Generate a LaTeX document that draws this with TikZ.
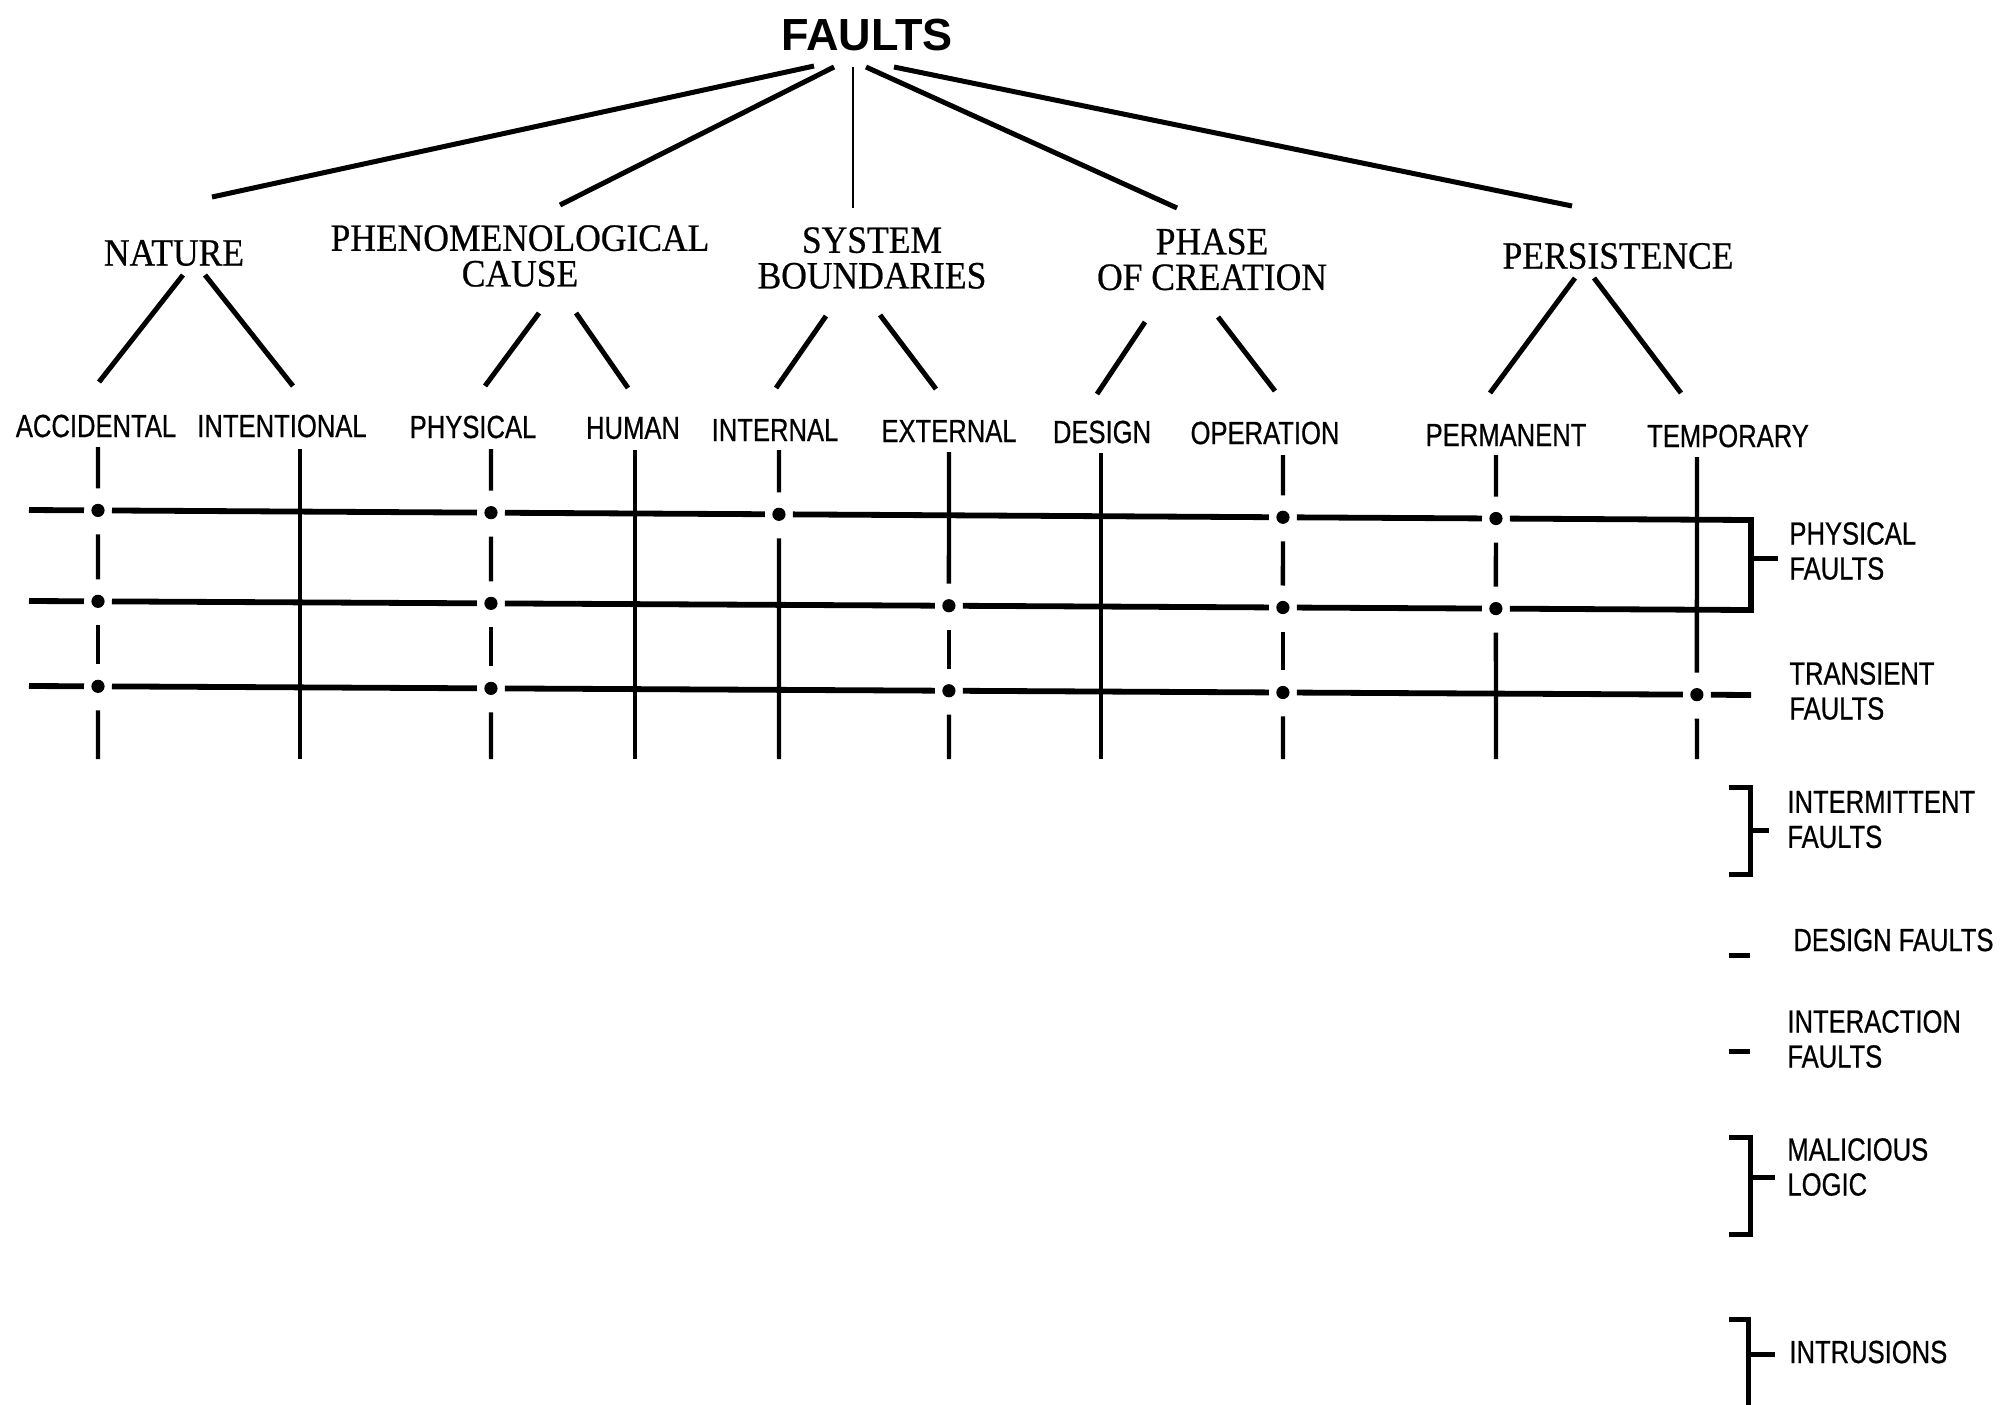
\documentclass[tikz,border=0pt]{standalone}
\usepackage{fontspec}
\setmainfont{Liberation Serif}
\newfontfamily\titlefont{Liberation Sans}
\newfontfamily\headfont[FakeStretch=0.92,FakeBold=0.6]{Liberation Serif}
\newfontfamily\itemfont[FakeStretch=0.8,FakeBold=0.6]{Liberation Sans}
\usetikzlibrary{calc}
\begin{document}
\begin{tikzpicture}[x=0.5pt,y=-0.5pt,
  title/.style={font=\titlefont\bfseries\fontsize{22.5}{27}\selectfont, inner sep=0pt},
  head/.style={font=\headfont\fontsize{19.3}{17.8}\selectfont, align=center, inner sep=0pt},
  item/.style={font=\itemfont\fontsize{16}{17.5}\selectfont, inner sep=0pt},
  side/.style={font=\itemfont\fontsize{16}{17.5}\selectfont, align=left, inner sep=0pt, anchor=west},
  tree/.style={line width=2.5pt},
  thintree/.style={line width=1.2pt},
  rowline/.style={line width=2.9pt},
  colline/.style={line width=2.2pt},
  bracket/.style={line width=2.5pt},
  dot/.style={circle, fill=black, inner sep=0pt, minimum size=6.6pt},
  hgapL/.style={shorten <=7pt},
  hgapR/.style={shorten >=7pt},
  vgapT/.style={shorten <=12pt},
  vgapB/.style={shorten >=11pt}]
\useasboundingbox (0,0) rectangle (2011,1404);

% ---------- root ----------
\node[title] (faults) at (867,35) {FAULTS};

% ---------- viewpoints ----------
\node[head] (nature) at (174,253) {NATURE};
\node[head] (phen) at (520,256) {PHENOMENOLOGICAL\\CAUSE};
\node[head] (sysb) at (872,258) {SYSTEM\\BOUNDARIES};
\node[head] (phase) at (1212,259.5) {PHASE\\OF CREATION};
\node[head] (pers) at (1618,256) {PERSISTENCE};

% ---------- classes ----------
\node[item] (acc) at (96,426) {ACCIDENTAL};
\node[item] (intent) at (282,426) {INTENTIONAL};
\node[item] (phys) at (473,427) {PHYSICAL};
\node[item] (human) at (633,428) {HUMAN};
\node[item] (intern) at (775,430) {INTERNAL};
\node[item] (extern) at (949,431) {EXTERNAL};
\node[item] (design) at (1102,432) {DESIGN};
\node[item] (oper) at (1265,433) {OPERATION};
\node[item] (perm) at (1506,435) {PERMANENT};
\node[item] (temp) at (1728,436) {TEMPORARY};

% ---------- fault groups ----------
\node[side] (lphys) at (1789,551) {PHYSICAL\\FAULTS};
\node[side] (ltrans) at (1789,691) {TRANSIENT\\FAULTS};
\node[side] (linterm) at (1787,819.5) {INTERMITTENT\\FAULTS};
\node[side] (ldesign) at (1793,940) {DESIGN FAULTS};
\node[side] (linter) at (1787,1039) {INTERACTION\\FAULTS};
\node[side] (lmal) at (1787,1167) {MALICIOUS\\LOGIC};
\node[side] (lintr) at (1789,1352) {INTRUSIONS};

% ---------- tree: root to viewpoints ----------
\coordinate (faults-a) at (814,66);  \coordinate (nature-in) at (212,197);
\coordinate (faults-b) at (834,67);  \coordinate (phen-in) at (560,205);
\coordinate (faults-c) at (853,67);  \coordinate (sysb-in) at (853,208);
\coordinate (faults-d) at (866,67);  \coordinate (phase-in) at (1177,208);
\coordinate (faults-e) at (894,67);  \coordinate (pers-in) at (1572,206);
\draw[tree] (faults-a) -- (nature-in);
\draw[tree] (faults-b) -- (phen-in);
\draw[thintree] (faults-c) -- (sysb-in);
\draw[tree] (faults-d) -- (phase-in);
\draw[tree] (faults-e) -- (pers-in);

% ---------- tree: viewpoints to classes ----------
\coordinate (nature-l) at (183,275);  \coordinate (acc-in) at (99,382);
\coordinate (nature-r) at (205,275);  \coordinate (intent-in) at (293,386);
\coordinate (phen-l) at (539,313);    \coordinate (phys-in) at (485,386);
\coordinate (phen-r) at (576,313);    \coordinate (human-in) at (628,388);
\coordinate (sysb-l) at (826,316);    \coordinate (intern-in) at (776,388);
\coordinate (sysb-r) at (880,315);    \coordinate (extern-in) at (936,389);
\coordinate (phase-l) at (1145,322);  \coordinate (design-in) at (1097,394);
\coordinate (phase-r) at (1218,317);  \coordinate (oper-in) at (1275,391);
\coordinate (pers-l) at (1575,278);   \coordinate (perm-in) at (1490,393);
\coordinate (pers-r) at (1594,278);   \coordinate (temp-in) at (1681,393);
\draw[tree] (nature-l) -- (acc-in);
\draw[tree] (nature-r) -- (intent-in);
\draw[tree] (phen-l) -- (phys-in);
\draw[tree] (phen-r) -- (human-in);
\draw[tree] (sysb-l) -- (intern-in);
\draw[tree] (sysb-r) -- (extern-in);
\draw[tree] (phase-l) -- (design-in);
\draw[tree] (phase-r) -- (oper-in);
\draw[tree] (pers-l) -- (perm-in);
\draw[tree] (pers-r) -- (temp-in);

% ---------- grid: row and column ends ----------
\coordinate (r1w) at (29,510);  \coordinate (r1e) at (1751,520);
\coordinate (r2w) at (29,601);  \coordinate (r2e) at (1751,610);
\coordinate (r3w) at (29,686);  \coordinate (r3e) at (1751,695);

\coordinate (c1n) at (98,447);    \coordinate (c1s) at (98,759);
\coordinate (c2n) at (300,449);   \coordinate (c2s) at (300,759);
\coordinate (c3n) at (491,449);   \coordinate (c3s) at (491,759);
\coordinate (c4n) at (635,450);   \coordinate (c4s) at (635,759);
\coordinate (c5n) at (779,450);   \coordinate (c5s) at (779,759);
\coordinate (c6n) at (949,452);   \coordinate (c6s) at (949,759);
\coordinate (c7n) at (1101,453);  \coordinate (c7s) at (1101,759);
\coordinate (c8n) at (1283,455);  \coordinate (c8s) at (1283,759);
\coordinate (c9n) at (1496,455);  \coordinate (c9s) at (1496,759);
\coordinate (c10n) at (1697,457); \coordinate (c10s) at (1697,759);

% ---------- grid: selected combinations ----------
\foreach \r/\c in {1/1,1/3,1/5,1/8,1/9,
                   2/1,2/3,2/6,2/8,2/9,
                   3/1,3/3,3/6,3/8,3/10}
  \node[dot] (d\r-\c) at (intersection of r\r w--r\r e and c\c n--c\c s) {};

% rows
\draw[rowline,hgapR] (r1w) -- (d1-1.center);
\foreach \a/\b in {1/3,3/5,5/8,8/9}
  \draw[rowline,hgapL,hgapR] (d1-\a.center) -- (d1-\b.center);
\draw[rowline,hgapR] (r2w) -- (d2-1.center);
\foreach \a/\b in {1/3,3/6,6/8,8/9}
  \draw[rowline,hgapL,hgapR] (d2-\a.center) -- (d2-\b.center);
\draw[rowline,hgapR] (r3w) -- (d3-1.center);
\foreach \a/\b in {1/3,3/6,6/8,8/10}
  \draw[rowline,hgapL,hgapR] (d3-\a.center) -- (d3-\b.center);
\draw[rowline,hgapL] (d3-10.center) -- (r3e);

% physical faults bracket closing rows 1 and 2
\draw[rowline,hgapL,hgapR] (d1-9.center) -- (r1e) -- (r2e) -- (d2-9.center);
\coordinate (pf-mid) at ($(r1e)!0.43!(r2e)$);
\draw[bracket,shorten >=5.5pt] (pf-mid) -- (pf-mid -| lphys.west);

% columns
\foreach \c in {1,3,8}{
  \draw[colline,vgapB] (c\c n) -- (d1-\c.center);
  \draw[colline,vgapT,vgapB] (d1-\c.center) -- (d2-\c.center);
  \draw[colline,vgapT,vgapB] (d2-\c.center) -- (d3-\c.center);
  \draw[colline,vgapT] (d3-\c.center) -- (c\c s);
}
\foreach \c in {2,4,7}
  \draw[colline] (c\c n) -- (c\c s);
\draw[colline,vgapB] (c5n) -- (d1-5.center);
\draw[colline,vgapT] (d1-5.center) -- (c5s);
\draw[colline,vgapB] (c6n) -- (d2-6.center);
\draw[colline,vgapT,vgapB] (d2-6.center) -- (d3-6.center);
\draw[colline,vgapT] (d3-6.center) -- (c6s);
\draw[colline,vgapB] (c9n) -- (d1-9.center);
\draw[colline,vgapT,vgapB] (d1-9.center) -- (d2-9.center);
\draw[colline,vgapT] (d2-9.center) -- (c9s);
\draw[colline,vgapB] (c10n) -- (d3-10.center);
\draw[colline,vgapT] (d3-10.center) -- (c10s);

% ---------- brackets of the lower groups ----------
\coordinate (im-t) at (1729,787);  \coordinate (im-b) at (1729,874);
\draw[bracket] (im-t) -- (1750,787) -- (1750,874) -- (im-b);
\coordinate (im-mid) at (1750,830);
\draw[bracket,shorten >=9pt] (im-mid) -- (im-mid -| linterm.west);

\coordinate (df-a) at (1729,955); \coordinate (df-b) at (1750,955);
\draw[bracket] (df-a) -- (df-b);

\coordinate (ia-a) at (1729,1051); \coordinate (ia-b) at (1750,1051);
\draw[bracket] (ia-a) -- (ia-b);

\coordinate (ml-t) at (1729,1137);  \coordinate (ml-b) at (1729,1234);
\draw[bracket] (ml-t) -- (1750,1137) -- (1750,1234) -- (ml-b);
\coordinate (ml-mid) at (1750,1177);
\draw[bracket,shorten >=6pt] (ml-mid) -- (ml-mid -| lmal.west);

\coordinate (in-t) at (1729,1319);
\draw[bracket] (in-t) -- (1748,1319) -- (1748,1412);
\coordinate (in-mid) at (1748,1354);
\draw[bracket,shorten >=7pt] (in-mid) -- (in-mid -| lintr.west);
\end{tikzpicture}
\end{document}
